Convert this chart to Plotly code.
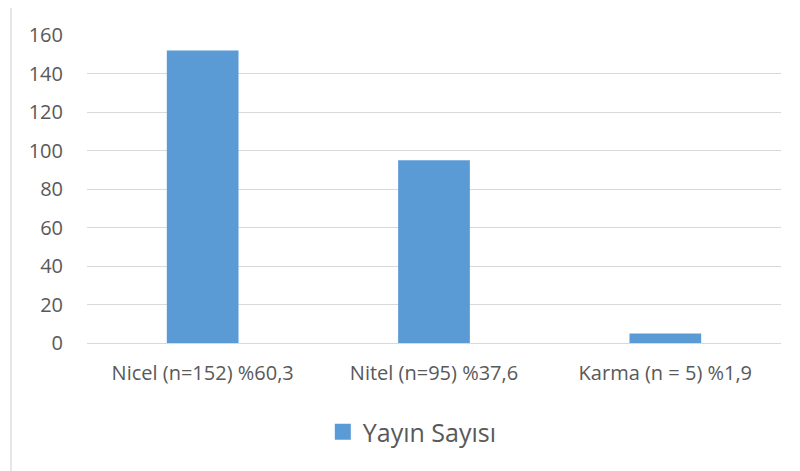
import plotly.graph_objects as go

categories = ["Nicel (n=152) %60,3", "Nitel (n=95) %37,6", "Karma (n = 5) %1,9"]
values = [152, 95, 5]
series_name = "Yayın Sayısı"
y_ticks = [0, 20, 40, 60, 80, 100, 120, 140, 160]

# page has an 8px body margin, so the figure sits at (8, 8) in the window
OFF = 8
W, H = 800 - OFF, 471 - OFF
L, R, T, B = 87 - OFF, 19, 35 - OFF, 128
pw, ph = W - L - R, H - T - B

fig = go.Figure()
fig.add_trace(go.Bar(x=categories, y=values, name=series_name,
                     marker=dict(color="#5B9BD5", line=dict(width=0)),
                     showlegend=False))
fig.add_trace(go.Scatter(x=[None], y=[None], mode="markers", name=series_name,
                         marker=dict(symbol="square", size=17, color="#5B9BD5"),
                         showlegend=True))

fig.update_layout(
    width=W, height=H,
    margin=dict(l=L, r=R, t=T, b=B, pad=0),
    paper_bgcolor="white", plot_bgcolor="white",
    bargap=0.69,
    font=dict(family="Open Sans, Liberation Sans, sans-serif", color="#595959", size=20),
    xaxis=dict(showgrid=False, showline=False, ticks="", tickfont=dict(size=20),
               ticklabelstandoff=16),
    yaxis=dict(range=[0, 160], tickvals=y_ticks, showgrid=True, gridcolor="#D9D9D9",
               gridwidth=1.3, zeroline=True, zerolinecolor="#D9D9D9", zerolinewidth=1.3,
               ticks="", ticklabelstandoff=23, tickfont=dict(size=20)),
    legend=dict(orientation="h", x=(336 - OFF - L) / pw - 0.019, xanchor="left",
                y=(H - B - (432 - OFF)) / ph, yanchor="middle", itemsizing="trace",
                font=dict(size=25, color="#595959"), bgcolor="rgba(0,0,0,0)"),
    shapes=[dict(type="rect", xref="paper", yref="paper",
                 x0=(11 - OFF - L) / pw, x1=1.2, y0=-0.6, y1=(H - B - (6 - OFF)) / ph,
                 line=dict(color="#D9D9D9", width=1.3), fillcolor="rgba(0,0,0,0)",
                 layer="below")],
)

fig.write_html("out.html")
